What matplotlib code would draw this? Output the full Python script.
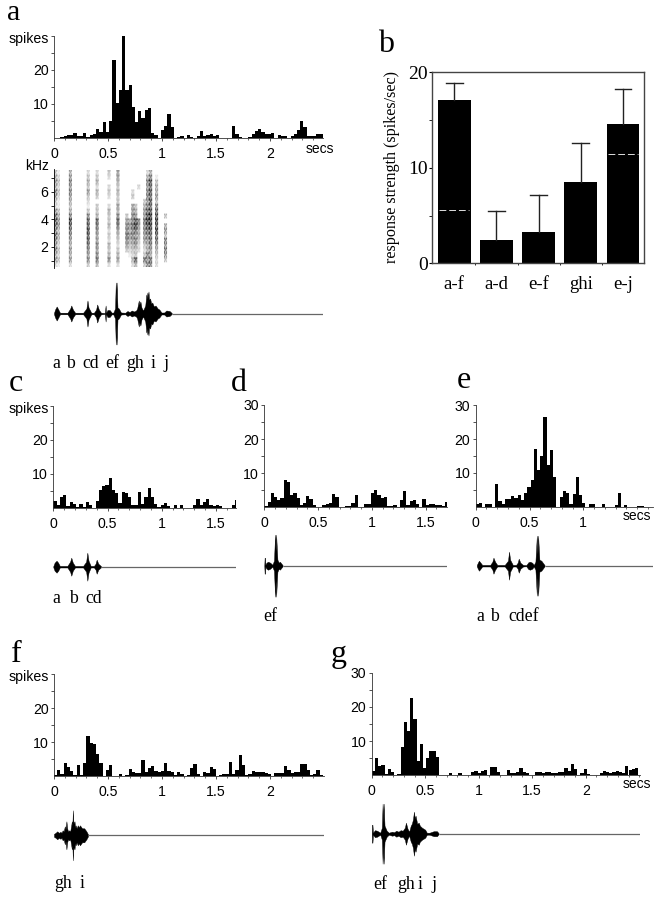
import matplotlib
matplotlib.use("Agg")
import matplotlib.pyplot as plt
import numpy as np

plt.rcParams['font.family'] = ['Liberation Sans', 'DejaVu Sans']

# spike counts per 30 ms bin
hist_a = [0, 0, .3, .6, 1, .9, 1.5, .5, .7, 1.4, .2, 1, 1.3, 2.5, 1.8, 4.8, 1.7, 5, 23, 10.3,
          14.2, 30, 14, 15.5, 9.2, 4.8, 7.9, 6, 8.1, 8.9, 1.6, 1, 0, 2.2, 3.6, 6.9, 3.1, 0, .4, .5,
          0, .8, .4, 0, .7, 2, .6, 1, 1.3, .6, .8, 0, 0, 0, 0, 3.6, 1.2, .3, 0, 0,
          .3, 1.2, 2, 2.5, 1.8, 1.2, 1.2, 1.5, 0, .8, .5, .6, 0, .6, 1.2, 2.2, 5, 3.3, .7, .7,
          .7, 1.2, 1.1]
hist_c = [2, .9, 3.2, 3.7, .6, 1.7, 1.1, .2, 1.3, .3, 1.7, .8, .1, 2, 5.2, 6.5, 6.6, 8.7, 5.2, 4.5,
          1.5, 4.7, 4.3, 3.3, .9, .9, 4.7, 1.3, 3.2, 5.8, 3.2, 1.2, .3, 1, 1.5, .6, 0, .8, 0, .8,
          0, 0, 0, 1, 2.6, 1, 1.7, 2.6, 1, .6, 1, .7, 0, 0, 0, 1, 2.3]
hist_d = [.4, 1.7, 4.2, 3, 2.2, 2.6, 8, 7.3, 3.6, 4.2, 2.8, .6, 1.3, 3.4, 2.4, .6, 0, .2, .8, .9,
          1.3, 3.8, 3, 0, 0, .4, .4, 1.2, 3.5, 0, 0, 1, 1, 4.3, 5.1, 3.6, 2.8, 3, .5, .5,
          .7, 0, 2, 4.9, .7, 1.8, 2, .9, 0, 2.5, .8, .9, .9, .6, .8, .5, 1.6]
hist_e = [.9, 1.2, 0, 1, 1, 0, 6.7, 1.9, 1, 2.4, 2.3, 3.2, 2.7, 3.6, 2, 4, 6, 8, 17, 11,
          15, 26.5, 12.5, 16.8, 8.7, 0, 3, 4.6, 4.1, 1, 3.7, 8.9, 3.6, 1.2, 0, .8, .8, 0, 0, .9,
          0, 0, 0, .7, 4, 0, .6, 0, 0, 0, .4, .4, 0, 0, 0]
hist_f = [.3, 1.7, .7, 3.9, 2.6, 1.6, .3, 3.1, .4, 3.7, 11.9, 9.7, 9.5, 6.5, 3.7, 0, 1.7, 3.2, 0, 0,
          .5, 0, .4, 2.2, 1.2, .8, .8, 4.7, 1.2, 2.5, 3, 1.4, 1.3, 1.4, 3.9, 1.5, 1.1, .3, 1.2, .5,
          0, .3, 2.3, 3.6, .7, 0, 1.3, .9, 2.8, 2, .1, .3, .5, .6, 4.1, .7, 1.9, 6.3, 3.3, .3,
          .6, 1.5, 1.2, 1.2, 1.1, .9, .6, 0, 1, .8, .8, 3, 1.7, .9, 1.2, 1.2, 3.6, 3.4, 1.7, .3,
          .7, 1.7, .2]
hist_g = [1.3, 5.1, 2.7, 3.1, .4, 1.8, 1, 0, .5, 8.4, 15.6, 12.9, 22.5, 16.5, 4.3, 9.2, 2.1, 5.2, 7.2, 7,
          5.3, 0, 0, 0, .7, 0, 0, .6, 0, 0, 0, 1, 1.2, .8, 1.3, 1.5, 0, 2.5, 2.5, .9,
          0, 0, 1.5, .8, .6, 1.1, 2.1, 1, .8, 0, 0, .9, .9, .8, 1.1, .9, .6, .8, 1, 1,
          2, 1.2, 3.4, 1.8, 0, .8, 1.7, .5, 0, 0, .2, .7, 1.4, 1, .8, .9, 1.2, .9, .7, 2.6,
          1.6, 1.8, 2.1]
bin_w = 0.03
x_labels = ['0', '0.5', '1', '1.5', '2']

# sound envelopes: time in secs, half height in pixels
wave_a_t = [0, .01, .025, .04, .055, .125, .15, .16, .175, .195, .27, .3, .31, .32, .345, .37, .39, .40, .415, .435,
            .47, .478, .482, .495, .515, .535, .55, .565, .572, .576, .58, .588, .6, .62, .66, .68, .7, .72, .74, .76,
            .77, .785, .79, .80, .81, .825, .845, .855, .86, .865, .87, .875, .88, .89, .9, .91, .925, .94, .96, .975, .995,
            1.02, 1.04, 1.07, 1.09]
wave_a_h = [.6, 4, 7, 4, .8, .8, 5, 8, 4, .8, .8, 5, 13, 6, .8, .8, 4, 9, 4, .8,
            .5, 8, .5, 3.5, 3.5, .8, 1, 5, 31, 12, 31, 6, 5, 1, .8, 2.5, 1.5, 3, 2, 3,
            5, 13, 9, 12, 6, 3, 8, 19, 15, 21, 16, 22, 14, 15, 10, 11, 7, 8, 5, 4, 1,
            1, 3, 2.5, .5]
wave_c_t = [0, .012, .03, .045, .06, .13, .155, .166, .18, .2, .275, .303, .314, .325, .345, .375, .39, .40, .415, .44]
wave_c_h = [.6, 4, 6, 4, .8, .8, 5, 9, 4, .8, .8, 5, 14, 6, .8, .8, 3, 7, 3, .6]
wave_d_t = [0, .003, .006, .01, .02, .035, .055, .075, .09, .1, .105, .11, .122, .135, .145, .17]
wave_d_h = [.5, 8, 8, 1, 3, 4, 3, 1, 5, 31, 15, 31, 6, 3, 4, .6]
wave_e_t = [.01, .02, .03, .045, .06, .135, .155, .165, .18, .2, .27, .3, .31, .32, .345, .375, .39, .40, .415, .44,
            .47, .49, .505, .525, .54, .555, .568, .574, .58, .592, .61, .64]
wave_e_h = [.6, 3, 5, 3, .8, .8, 4, 8, 4, .8, .8, 5, 14, 6, .8, .8, 3, 7, 3, .8,
            .6, 3.5, 4, 3, .8, 4, 30, 12, 30, 6, 5, .6]
wave_f_t = [0, .015, .03, .045, .06, .07, .08, .09, .1, .107, .115, .122, .13, .14, .15, .158, .165, .17, .175, .18, .19, .195, .2,
            .21, .22, .23, .24, .26, .28, .3, .315]
wave_f_h = [1.5, 2.5, 4, 2.5, 3.5, 2.5, 5, 4, 9, 6, 14, 7, 4, 5, 4, 9, 14, 10, 25, 12, 14, 8, 10,
            7, 10, 8, 10, 7, 7, 4, 1]
wave_g_t = [0, .003, .007, .012, .03, .05, .08, .095, .102, .107, .112, .12, .14, .16, .19, .21, .23, .25, .27, .29, .31, .32, .335, .35,
            .365, .375, .385, .395, .403, .41, .425, .44, .45, .47, .5, .515, .54, .58, .61, .625]
wave_g_h = [.5, 9, 9, 1, 3.5, 3, 1, 6, 30, 12, 30, 8, 3, 1, 2, 1.5, 3, 2, 3.5, 3, 6, 11, 5, 2,
            8, 10, 14, 22, 15, 18, 10, 11, 8, 6, 4, 1, 1, 2.5, 2.5, .5]

# coarse spectrogram, darkness 0-9, rows from 7.4 kHz down to 0.75 kHz
spec_rows = [
    "3100040000 0200200030 0500000000 0240000000",
    "4200050000 0300300020 0500000000 0460100000",
    "5300060000 0400400000 0400000000 0680300000",
    "4200050000 0300200020 0300000020 0570400000",
    "6300060000 0500400030 0400002000 0680400000",
    "5200050000 0300300020 0300003000 0670500000",
    "3100040000 0200000000 0300000000 3580300000",
    "2100030000 0100300020 0500005300 4670600000",
    "5300040000 0300300040 0400005400 5780700000",
    "7400060000 0600400030 0600306500 5890800300",
    "8500090000 0800800030 0800546860 7990900000",
    "7500080000 0800700040 0700657950 6890800400",
    "6300070000 0900600020 0500646740 6780900500",
    "7400060000 0800500030 0400756540 5670700300",
    "6300050000 0800500020 0300645630 5570700600",
    "5200040000 0700600040 0200534520 3460500500",
    "6300050000 0600500030 0300323320 2450400600",
    "4200040000 0500600040 0400012300 3640300500",
    "5300050000 0600700060 0500004800 7570200300",
    "2100020000 0300400020 0200002400 3660200000",
]
spec = np.array([[int(c) for c in r.replace(" ", "")] for r in spec_rows])
# grain of the printed spectrogram, one small tile per cell
grain = np.array([[1, .55, .95], [.35, .85, .3], [.9, .3, .7]])

# bar chart in panel b
groups = ['a-f', 'a-d', 'e-f', 'ghi', 'e-j']
strength = [17.1, 2.4, 3.3, 8.5, 14.6]
err_top = [18.9, 5.5, 7.2, 12.6, 18.2]
spont_x = [0, 4]
spont_y = [5.6, 11.45]

W, H = 657, 900
fig = plt.figure(figsize=(W / 100, H / 100), dpi=100)


def axpx(left, top, right, bottom):
    return fig.add_axes([left / W, 1 - bottom / H, (right - left) / W, (bottom - top) / H])


def txt(x, y, s, **kw):
    kw.setdefault('fontsize', 10.2)
    fig.text(x / W, 1 - y / H, s, **kw)


def letter(x, y, s, size=23):
    txt(x, y, s, family='Liberation Serif', fontsize=size, va='baseline', ha='left')


def song(x, y, parts, pos):
    for p, xp in zip(parts, pos):
        txt(xp, y, p, family='Liberation Serif', fontsize=12.8, va='baseline', ha='left')


def hist(vals, left, top, right, bottom, zero, pps, labels, ylabels):
    ax = axpx(left, top, right, bottom)
    ax.bar(np.arange(len(vals)) * bin_w, vals, width=bin_w, align='edge', color='black', linewidth=0)
    ax.set_xlim((left - zero) / pps, (right - zero) / pps)
    ax.set_ylim(0, 30)
    for s in ['top', 'right']:
        ax.spines[s].set_visible(False)
    for s in ['left', 'bottom']:
        ax.spines[s].set_linewidth(0.6)
        ax.spines[s].set_color('#333333')
    ax.set_xticks([i * 0.5 for i in range(len(labels))])
    ax.set_xticklabels(labels)
    ax.set_xticks(np.arange(0, (right - zero) / pps, 0.1), minor=True)
    ax.set_yticks([10, 20, 30] if ylabels[-1] else [10, 20])
    ax.set_yticklabels(ylabels if ylabels[-1] else ylabels[:2])
    ax.set_yticks([5, 15, 25, 30], minor=True)
    ax.tick_params(axis='x', which='major', length=2, width=0.6, labelsize=10.2, pad=4.5, color='#333333')
    ax.tick_params(axis='x', which='minor', length=1.2, width=0.5, color='#333333')
    ax.tick_params(axis='y', which='major', length=2.5, width=0.6, labelsize=10.2, pad=1.5, color='#333333')
    ax.tick_params(axis='y', which='minor', length=2, width=0.6, color='#333333')
    ax.patch.set_alpha(0)
    return ax


def wave(t, h, left, right, mid, zero, pps):
    ax = axpx(left, mid - 36, right, mid + 36)
    ax.plot([t[-1], (right - zero) / pps], [0, 0], color='#666666', lw=0.9, solid_capstyle='butt')
    ax.fill_between(t, -np.array(h), np.array(h), color='black', linewidth=0.3)
    ax.set_xlim((left - zero) / pps, (right - zero) / pps)
    ax.set_ylim(-36, 36)
    ax.axis('off')


# a
hist(hist_a, 54, 35.7, 323, 138, 54, 108, x_labels, ['10', '20', ''])
txt(49, 38.7, 'spikes', ha='right', va='center')
txt(320, 149, 'secs', ha='center', va='center', fontsize=10)
letter(7, 20.5, 'a', size=21.5)

ax = axpx(54, 169, 173, 268)
ax.imshow(np.kron(spec, grain), cmap='gray_r', vmin=0, vmax=9, aspect='auto', extent=(0, 1.1, 0.57, 7.57),
          interpolation='bilinear')
ax.set_xlim(0, 1.1)
ax.set_ylim(0.48, 7.64)
for s in ['top', 'right', 'bottom']:
    ax.spines[s].set_visible(False)
ax.spines['left'].set_linewidth(0.6)
ax.set_xticks([])
ax.set_yticks([2, 4, 6])
ax.set_yticks([1, 3, 5, 7], minor=True)
ax.tick_params(axis='y', which='major', length=2.5, width=0.6, labelsize=10.2, pad=1.5)
ax.tick_params(axis='y', which='minor', length=2, width=0.6)
txt(49, 166, 'kHz', ha='right', va='center', fontsize=10)

wave(wave_a_t, wave_a_h, 54, 323, 313.5, 54, 108)
song(0, 368, ['a', 'b', 'cd', 'ef', 'gh', 'i', 'j'], [52, 65.7, 82, 105, 126, 150.7, 163])

# b
ax = axpx(432.3, 72.3, 644.3, 263.3)
ax.bar(range(5), strength, width=0.78, color='black', linewidth=0)
for i in range(5):
    ax.plot([i, i], [strength[i], err_top[i]], color='#222222', lw=1)
    ax.plot([i - 0.2, i + 0.2], [err_top[i], err_top[i]], color='#222222', lw=1)
for xb, yb in zip(spont_x, spont_y):
    ax.plot([xb - 0.36, xb + 0.36], [yb, yb], color='#dddddd', lw=0.7, dashes=(7, 3))
ax.set_xlim(-0.52, 4.505)
ax.set_ylim(0, 20)
ax.set_xticks(range(5))
ax.set_xticklabels(groups, family='Liberation Serif', fontsize=13.5)
ax.set_xticks([0.5, 1.5, 2.5, 3.5], minor=True)
ax.set_yticks([0, 10, 20])
ax.set_yticklabels(['0', '10', '20'], family='Liberation Serif', fontsize=14)
ax.set_yticks([5, 15], minor=True)
ax.tick_params(axis='x', which='major', length=0, pad=9)
ax.tick_params(axis='x', which='minor', length=1.5, width=0.6)
ax.tick_params(axis='y', which='major', length=2.5, width=0.8, pad=0.5)
ax.tick_params(axis='y', which='minor', length=2, width=0.6)
for s in ax.spines.values():
    s.set_linewidth(1)
    s.set_color('#444444')
txt(392, 167, 'response strength (spikes/sec)', family='Liberation Serif', fontsize=11.6,
    rotation=90, ha='center', va='center')
letter(378, 52, 'b')

# c
hist(hist_c, 53.3, 405.7, 236, 508, 53.3, 108.4, x_labels[:4], ['10', '20', ''])
txt(48.5, 408.7, 'spikes', ha='right', va='center')
wave(wave_c_t, wave_c_h, 53.3, 236, 566.7, 53.3, 108.4)
song(0, 603, ['a', 'b', 'cd'], [52, 69, 85])
letter(9, 391, 'c')

# d
hist(hist_d, 264.3, 405, 447, 507.3, 264.3, 107.6, x_labels[:4], ['10', '20', '30'])
wave(wave_d_t, wave_d_h, 264.3, 447, 565.7, 264.3, 107.6)
song(0, 621, ['ef'], [263])
letter(231, 391, 'd')

# e
hist(hist_e, 475.7, 405, 653, 507, 475.7, 107.6, x_labels[:3], ['10', '20', '30'])
txt(637, 515.7, 'secs', ha='center', va='center', fontsize=10)
wave(wave_e_t, wave_e_h, 475.7, 653, 565.7, 475.7, 107.6)
song(0, 621, ['a', 'b', 'cdef'], [476, 490, 508])
letter(457, 388, 'e')

# f
hist(hist_f, 54, 674.3, 324, 776, 54, 108, x_labels, ['10', '20', ''])
txt(49, 677, 'spikes', ha='right', va='center')
wave(wave_f_t, wave_f_h, 54, 324, 835.3, 54, 108)
song(0, 888, ['gh', 'i'], [54, 80])
letter(11, 662, 'f')

# g
hist(hist_g, 371.7, 672.7, 640, 775.3, 371.7, 107, x_labels, ['10', '20', '30'])
txt(637, 784, 'secs', ha='center', va='center', fontsize=10)
wave(wave_g_t, wave_g_h, 371.7, 640, 833.7, 371.7, 107)
song(0, 889, ['ef', 'gh', 'i', 'j'], [373, 397, 418, 431])
letter(331, 662, 'g')

plt.savefig("out.png", dpi=100)
